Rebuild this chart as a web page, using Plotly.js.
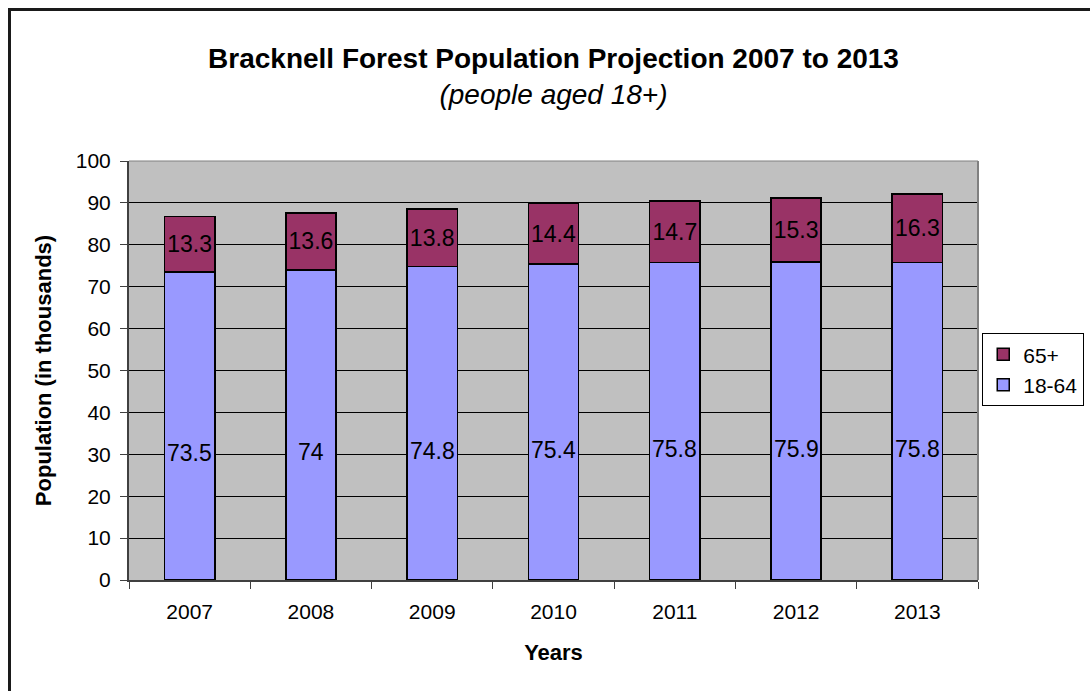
<!DOCTYPE html>
<html>
<head>
<meta charset="utf-8">
<script src="https://cdn.plot.ly/plotly-3.0.1.min.js"></script>
<style>
  html, body { margin:0; padding:0; background:#fff; overflow:hidden; }
  #wrap { position:relative; width:1090px; height:691px; }
  #frame { position:absolute; left:8px; top:8px; width:1200px; height:800px; border-left:3px solid #1a1a1a; border-top:3px solid #1a1a1a; }
  #chart { position:absolute; left:0; top:0; width:1090px; height:691px; }
</style>
</head>
<body>
<div id="wrap"><div id="frame"></div><div id="chart"></div></div>
<script>
const years = ['2007','2008','2009','2010','2011','2012','2013'];
const age18to64 = [73.5, 74, 74.8, 75.4, 75.8, 75.9, 75.8];
const age65plus = [13.3, 13.6, 13.8, 14.4, 14.7, 15.3, 16.3];
const seriesNames = ['18-64', '65+'];

const FONT = 'Arial, Liberation Sans, sans-serif';

const traces = [
  {
    type:'bar', name:seriesNames[0], x:years, y:age18to64,
    marker:{color:'#9999FF', line:{color:'#000', width:1.5}},
    hoverinfo:'x+y+name'
  },
  {
    type:'bar', name:seriesNames[1], x:years, y:age65plus,
    text:age65plus.map(String), textposition:'inside', insidetextanchor:'middle',
    textangle:0,
    textfont:{family:FONT, size:23, color:'#000'},
    constraintext:'none',
    marker:{color:'#993366', line:{color:'#000', width:1.5}},
    hoverinfo:'x+y+name'
  }
];

const annotations = years.map((yr, i) => ({
  x: i, y: age18to64[i] * 0.412, xref:'x', yref:'y',
  text: String(age18to64[i]), showarrow:false,
  font:{family:FONT, size:23, color:'#000'}
}));

const layout = {
  width:1090, height:691,
  margin:{l:129, r:112, t:161, b:111, autoexpand:false},
  paper_bgcolor:'rgba(0,0,0,0)',
  plot_bgcolor:'#C0C0C0',
  barmode:'stack',
  bargap:0.585,
  font:{family:FONT, color:'#000'},
  title:{
    text:'<b>Bracknell Forest Population Projection 2007 to 2013</b><br><i><span style="font-weight:normal">(people aged 18+)</span></i>',
    font:{size:28, color:'#000'},
    x:0.5, xref:'paper', xanchor:'center',
    y:0.902, yref:'container', yanchor:'middle'
  },
  xaxis:{
    type:'category', categoryorder:'array', categoryarray:years,
    range:[-0.5, years.length - 0.5], autorange:false,
    title:{text:'<b>Years</b>', font:{size:22}, standoff:22},
    tickfont:{size:21},
    ticks:'outside', ticklen:7, tickcolor:'#404040', tickson:'boundaries',
    ticklabelstandoff:12,
    showline:true, linecolor:'#404040', linewidth:2,
    showgrid:false
  },
  yaxis:{
    range:[0,100], dtick:10, autorange:false,
    title:{text:'<b>Population (in thousands)</b>', font:{size:22}, standoff:18},
    tickfont:{size:21},
    ticks:'outside', ticklen:7, tickcolor:'#404040',
    ticklabelstandoff:5,
    showline:true, linecolor:'#404040', linewidth:2,
    showgrid:true, gridcolor:'#000', gridwidth:1,
    zeroline:false
  },
  legend:{
    x:1.005, xanchor:'left', y:0.589, yanchor:'top',
    traceorder:'reversed',
    bgcolor:'#fff', bordercolor:'#000', borderwidth:1,
    font:{size:21}, itemwidth:30
  },
  shapes:[
    {type:'line', xref:'paper', yref:'paper', x0:1, x1:1, y0:0, y1:1, line:{color:'#808080', width:2}},
    {type:'line', xref:'paper', yref:'paper', x0:0, x1:1, y0:1, y1:1, line:{color:'#808080', width:1}}
  ],
  annotations:annotations,
  showlegend:true
};

Plotly.newPlot('chart', traces, layout, {displayModeBar:false, staticPlot:true});
</script>
</body>
</html>
